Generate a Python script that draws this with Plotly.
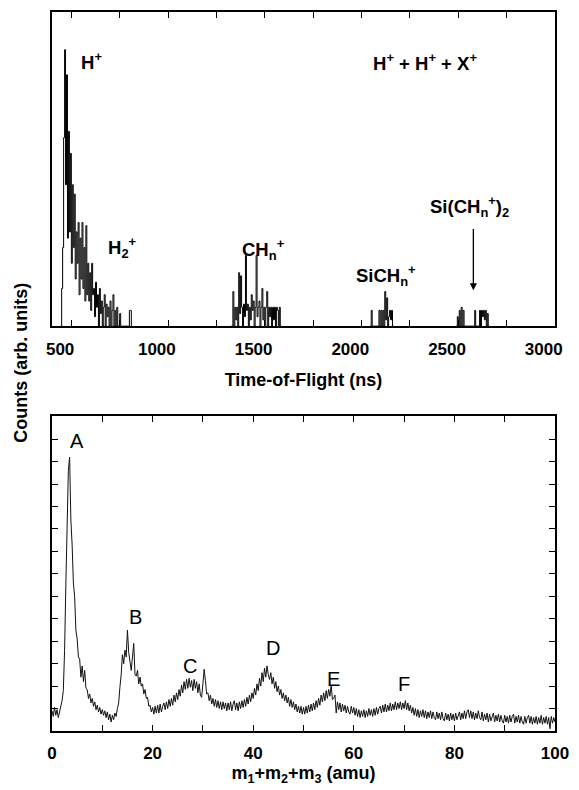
import plotly.graph_objects as go

# ---------------- data: top panel (TOF histogram, arb. units) ----------------
tof_step = 5
h_start = 445
h_counts = [0.0, 0.12, 0.25, 0.6, 0.88, 0.45, 0.8, 0.28, 0.62, 0.3,
            0.55, 0.2, 0.45, 0.25, 0.42, 0.15, 0.3, 0.2, 0.33, 0.1,
            0.28, 0.15, 0.33, 0.12, 0.25, 0.08, 0.32, 0.1, 0.2, 0.08,
            0.17, 0.05, 0.2, 0.1, 0.12, 0.03, 0.14, 0.06, 0.1, 0.0,
            0.12, 0.04, 0.08, 0.0, 0.06, 0.1, 0.0, 0.07, 0.03, 0.06,
            0.0, 0.08, 0.0, 0.05, 0.1, 0.0, 0.05, 0.0, 0.06, 0.0,
            0.0, 0.04, 0.0, 0.0, 0.0, 0.0, 0.0, 0.0, 0.0, 0.0,
            0.0, 0.05, 0.05, 0.0]
ch_start = 1325
ch_counts = [0.0, 0.0, 0.11, 0.0, 0.06, 0.02, 0.06, 0.0, 0.17, 0.04,
             0.16, 0.06, 0.0, 0.07, 0.03, 0.225, 0.05, 0.07, 0.0, 0.06,
             0.02, 0.10, 0.05, 0.08, 0.0, 0.06, 0.225, 0.03, 0.06, 0.08,
             0.0, 0.06, 0.12, 0.02, 0.06, 0.0, 0.06, 0.11, 0.0, 0.06,
             0.03, 0.06, 0.0, 0.06, 0.02, 0.06, 0.0, 0.06, 0.05, 0.0,
             0.06, 0.0, 0.0]
sich_start = 2045
sich_counts = [0.0, 0.05, 0.0, 0.0, 0.0, 0.0, 0.0, 0.0, 0.0, 0.05,
               0.0, 0.05, 0.0, 0.05, 0.0, 0.11, 0.02, 0.09, 0.0, 0.03,
               0.05, 0.02, 0.05, 0.0, 0.0]
si2_start = 2490
si2_counts = [0.0, 0.03, 0.0, 0.05, 0.0, 0.06, 0.0, 0.05, 0.0, 0.0,
              0.0, 0.0, 0.0, 0.0, 0.0, 0.0, 0.0, 0.0, 0.0, 0.05,
              0.0, 0.0, 0.0, 0.0, 0.05, 0.0, 0.05, 0.03, 0.05, 0.02,
              0.05, 0.0, 0.04, 0.0, 0.0]

tof_tick_vals = [500, 750, 1000, 1250, 1500, 1750, 2000, 2250, 2500, 2750]
tof_label_text = ["500", "1000", "1500", "2000", "2500", "3000"]
tof_label_vals = [442, 942, 1442, 1942, 2442, 2942]

# ---------------- data: bottom panel (mass sum spectrum) ----------------
mass_step = 0.25
mass_counts = [
    0.9, 0.65, 1.05, 0.7, 0.95, 0.6, 0.85, 1.1, 1.35, 1.8, 3.6, 6.5, 9.6, 11.6, 12.2, 9.4, 8.3, 6.6, 6.0, 4.5,
    4.1, 3.3, 3.2, 2.4, 2.9, 2.2, 2.7, 1.9, 1.85, 1.45, 1.65, 1.25, 1.45, 1.1, 1.3, 0.95, 1.15, 0.85, 1.05, 0.75,
    0.95, 0.7, 0.9, 0.6, 0.85, 0.5, 0.75, 0.4, 0.7, 0.5, 0.8, 0.65, 1.0, 1.25, 1.95, 2.5, 3.4, 3.0, 3.6, 3.3,
    4.5, 3.5, 3.1, 2.7, 3.3, 3.9, 2.5, 2.45, 2.7, 2.1, 2.4, 2.0, 2.1, 1.65, 1.85, 1.45, 1.5, 1.1, 1.15, 0.85,
    1.05, 0.75, 1.1, 0.8, 1.15, 0.8, 1.2, 0.85, 1.1, 1.25, 0.95, 1.3, 1.0, 1.4, 1.1, 1.45, 1.15, 1.6, 1.3, 1.7,
    1.4, 1.85, 1.55, 2.05, 1.7, 2.2, 1.85, 2.3, 1.9, 2.35, 1.95, 2.25, 1.8, 2.3, 1.9, 2.2, 1.7, 2.1, 1.6, 1.5,
    2.1, 2.75, 2.25, 1.65, 1.7, 1.35, 1.6, 1.2, 1.45, 1.1, 1.4, 1.05, 1.35, 1.0, 1.3, 0.95, 1.3, 1.0, 1.25, 0.9,
    1.25, 0.95, 1.3, 0.9, 1.2, 1.35, 0.95, 1.25, 0.9, 1.3, 1.0, 1.35, 1.05, 1.4, 1.1, 1.5, 1.2, 1.6, 1.3, 1.7,
    1.45, 1.9, 1.6, 2.1, 1.8, 2.35, 2.0, 2.6, 2.2, 2.8, 2.4, 2.9, 2.5, 2.3, 2.6, 2.1, 2.4, 1.9, 2.2, 1.75,
    2.0, 1.6, 1.85, 1.45, 1.7, 1.35, 1.6, 1.25, 1.5, 1.1, 1.4, 1.05, 1.3, 0.95, 1.2, 0.85, 1.1, 0.8, 1.1, 0.75,
    1.05, 0.75, 1.1, 0.8, 1.15, 0.85, 1.2, 0.9, 1.25, 0.95, 1.35, 1.05, 1.45, 1.15, 1.6, 1.3, 1.7, 1.35, 1.8, 1.45,
    1.85, 1.55, 2.05, 1.4, 1.45, 1.6, 0.8, 1.3, 0.95, 1.25, 0.85, 1.2, 0.9, 1.15, 0.8, 1.1, 0.85, 0.75, 1.1, 0.8,
    1.05, 0.7, 1.0, 0.65, 0.95, 0.6, 0.9, 0.65, 0.95, 0.6, 0.9, 0.65, 1.0, 0.7, 0.95, 0.65, 1.0, 0.7, 1.05, 0.75,
    1.0, 1.1, 0.8, 1.15, 0.85, 1.2, 0.85, 1.15, 0.9, 1.25, 0.9, 1.2, 0.95, 1.3, 0.95, 1.25, 1.0, 1.3, 0.95, 1.25,
    1.0, 1.35, 0.95, 1.25, 0.9, 1.15, 0.8, 1.05, 0.7, 1.0, 0.65, 0.95, 0.6, 0.9, 0.65, 0.95, 0.6, 0.9, 0.55, 0.85,
    0.6, 0.9, 0.55, 0.85, 0.6, 0.5, 0.85, 0.55, 0.8, 0.5, 0.85, 0.55, 0.45, 0.8, 0.5, 0.75, 0.45, 0.8, 0.5, 0.75,
    0.45, 0.8, 0.5, 0.75, 0.85, 0.5, 0.8, 0.55, 0.9, 0.55, 0.85, 0.95, 0.6, 0.9, 0.55, 0.85, 0.5, 0.8, 0.55, 0.9,
    0.6, 0.5, 0.85, 0.45, 0.75, 0.5, 0.8, 0.4, 0.75, 0.45, 0.7, 0.8, 0.4, 0.7, 0.45, 0.75, 0.4, 0.7, 0.45, 0.35,
    0.7, 0.4, 0.65, 0.35, 0.7, 0.4, 0.65, 0.75, 0.35, 0.65, 0.4, 0.7, 0.35, 0.65, 0.4, 0.3, 0.65, 0.35, 0.6, 0.7,
    0.35, 0.65, 0.3, 0.6, 0.35, 0.65, 0.3, 0.6, 0.35, 0.7, 0.3, 0.6, 0.35, 0.65, 0.3, 0.6, 0.1, 0.65, 0.35, 0.6,
    0.4,
]
mass_tick_vals = [0, 10, 20, 30, 40, 50, 60, 70, 80, 90, 100]
mass_tick_text = ["0", "", "20", "", "40", "", "60", "", "80", "", "100"]
count_tick_vals = list(range(0, 15))

peak_labels = ["A", "B", "C", "D", "E", "F"]
peak_label_mass = [5.05, 16.5, 27.4, 43.9, 55.9, 69.9]
peak_label_y = [12.9, 5.1, 2.9, 3.7, 2.3, 2.1]

# ---------------- build ----------------
def bins(start, counts):
    return [start + tof_step * i for i in range(len(counts))]

FONT = "Liberation Sans, Arial, sans-serif"
fig = go.Figure()

for start, counts in [(h_start, h_counts), (ch_start, ch_counts),
                      (sich_start, sich_counts), (si2_start, si2_counts)]:
    fig.add_trace(go.Scatter(x=bins(start, counts), y=counts, mode="lines",
                             line=dict(color="#000000", width=1, shape="hv"),
                             xaxis="x", yaxis="y", showlegend=False,
                             hoverinfo="skip"))

# label-only axis trace (empty)
fig.add_trace(go.Scatter(x=[None], y=[None], xaxis="x3", yaxis="y",
                         showlegend=False, hoverinfo="skip"))

mass_x = [mass_step * i for i in range(len(mass_counts))]
fig.add_trace(go.Scatter(x=mass_x, y=mass_counts, mode="lines",
                         line=dict(color="#111111", width=1),
                         xaxis="x2", yaxis="y2", showlegend=False,
                         hoverinfo="skip"))

frame = dict(showline=True, linecolor="black", linewidth=1.6, mirror="ticks",
             showgrid=False, zeroline=False)

fig.update_layout(
    width=579, height=790,
    margin=dict(l=52, r=10, t=11, b=58),
    paper_bgcolor="white", plot_bgcolor="white",
    font=dict(family=FONT, color="black"),
    xaxis=dict(domain=[0, 1], anchor="y", range=[400, 3000], **frame,
               tickvals=tof_tick_vals, ticktext=[""] * len(tof_tick_vals),
               ticks="inside", ticklen=6, tickwidth=1.3, tickcolor="black"),
    xaxis3=dict(overlaying="x", anchor="y", range=[400, 3000], side="bottom",
                showline=False, showgrid=False, zeroline=False, ticks="",
                tickvals=tof_label_vals, ticktext=tof_label_text,
                tickfont=dict(size=17, family=FONT, weight="bold"),
                ticklabelstandoff=11,
                title=dict(text="<b>Time-of-Flight (ns)</b>",
                           font=dict(size=18, family=FONT), standoff=15)),
    yaxis=dict(domain=[0.5631, 1], anchor="x", range=[0, 1], **frame,
               showticklabels=False, ticks=""),
    xaxis2=dict(domain=[0, 1], anchor="y2", range=[0, 100], **frame,
                tickvals=mass_tick_vals, ticktext=mass_tick_text,
                ticks="inside", ticklen=6, tickwidth=1.3, tickcolor="black",
                tickfont=dict(size=17, family=FONT, weight="bold"),
                ticklabelstandoff=6,
                title=dict(text="<b>m<sub>1</sub>+m<sub>2</sub>+m<sub>3</sub> (amu)</b>",
                           font=dict(size=18, family=FONT), standoff=4)),
    yaxis2=dict(domain=[0, 0.4383], anchor="x2", range=[0, 14.04], **frame,
                tickvals=count_tick_vals, showticklabels=False,
                ticks="inside", ticklen=6, tickwidth=1.3, tickcolor="black"),
)

ann = []
top_labels = [
    ("<b>H<sup>+</sup></b>", 541, 0.844),
    ("<b>H<sub>2</sub><sup>+</sup></b>", 677, 0.25),
    ("<b>CH<sub>n</sub><sup>+</sup></b>", 1371, 0.245),
    ("<b>SiCH<sub>n</sub><sup>+</sup></b>", 1959, 0.16),
    ("<b>Si(CH<sub>n</sub><sup>+</sup>)<sub>2</sub></b>", 2342, 0.38),
    ("<b>H<sup>+</sup> + H<sup>+</sup> + X<sup>+</sup></b>", 2050, 0.84),
]
for text, x, y in top_labels:
    ann.append(dict(text=text, x=x, y=y, xref="x", yref="y", showarrow=False,
                    xanchor="left", yanchor="middle",
                    font=dict(size=18.5, family=FONT, color="black")))

# arrow to Si(CHn+)2
ann.append(dict(text="", x=2578, y=0.114, ax=2578, ay=0.314, xref="x", yref="y",
                axref="x", ayref="y", showarrow=True, arrowhead=2,
                arrowsize=1.1, arrowwidth=1.3, arrowcolor="black"))

for t, x, y in zip(peak_labels, peak_label_mass, peak_label_y):
    ann.append(dict(text=t, x=x, y=y, xref="x2", yref="y2", showarrow=False,
                    xanchor="center", yanchor="middle",
                    font=dict(size=20, family=FONT, color="black")))

ann.append(dict(text="<b>Counts (arb. units)</b>", x=-0.062, y=0.512,
                xref="paper", yref="paper", showarrow=False, textangle=-90,
                xanchor="center", yanchor="middle",
                font=dict(size=18, family=FONT, color="black")))

fig.update_layout(annotations=ann)
fig.write_html("out.html")
